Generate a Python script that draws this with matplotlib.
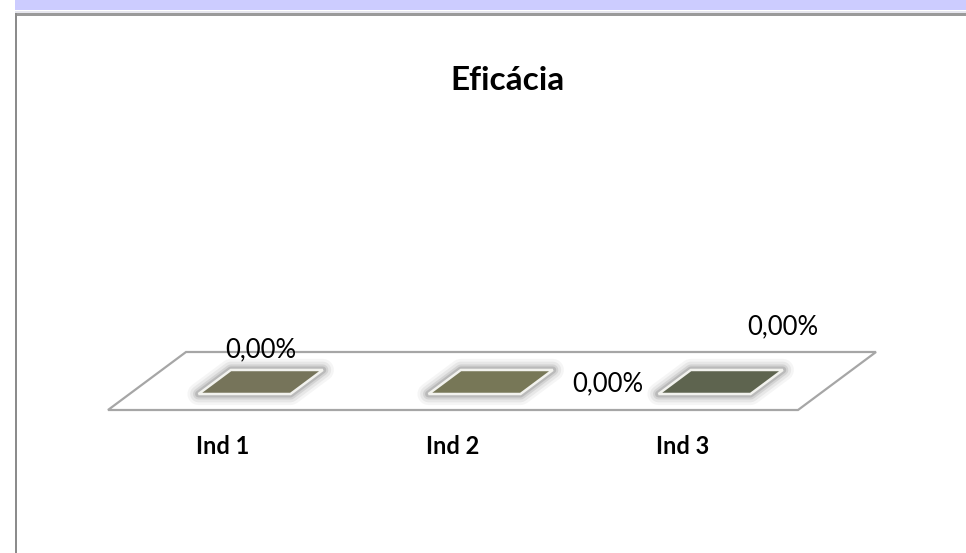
import matplotlib
matplotlib.use("Agg")
import matplotlib.pyplot as plt
from matplotlib.patches import Polygon, Rectangle

plt.rcParams['font.family'] = ['Lato', 'DejaVu Sans']

# ---- data ----
title = "Eficácia"
categories = ["Ind 1", "Ind 2", "Ind 3"]
values = [0.0, 0.0, 0.0]           # fractions (0.00%)
value_labels = ["0,00%", "0,00%", "0,00%"]
bar_colors = ["#76745A", "#777757", "#5E644F"]

# ---- layout (pixel-based figure) ----
W, H = 966, 553
fig = plt.figure(figsize=(W / 100, H / 100), dpi=100)
fig.patch.set_facecolor("white")

# decorative frame
fig.patches.append(Rectangle((15 / W, 1 - 10 / H), 1, 10 / H, transform=fig.transFigure,
                             facecolor="#CCCCFF", edgecolor="none", zorder=0))
fig.patches.append(Rectangle((15 / W, 1 - 12.5 / H), 1, 1.2 / H, transform=fig.transFigure,
                             facecolor="#E6E6EE", edgecolor="none", zorder=0))
fig.patches.append(Rectangle((15 / W, 1 - 15.5 / H), 1, 2.6 / H, transform=fig.transFigure,
                             facecolor="#9A9A9A", edgecolor="none", zorder=0))
fig.patches.append(Rectangle((15 / W, 0), 2.2 / W, 1 - 13 / H, transform=fig.transFigure,
                             facecolor="#8C8C8C", edgecolor="none", zorder=0))

# axes in category units: x -> slot index, y -> depth units (1 unit = 58 px)
ax = fig.add_axes([0, 0, 1, 1])
x0_px, slot_px, front_px, unit_px, shear_px = 108, 230, 410, 58, 78
ax.set_xlim(-x0_px / slot_px, (W - x0_px) / slot_px)
ax.set_ylim(-(H - front_px) / unit_px, front_px / unit_px)
ax.axis("off")

shear = shear_px / slot_px   # x shift per depth unit


def proj(x, d, h=0.0):
    return (x + shear * d, d + h)


n = len(categories)
# floor
floor = [proj(0, 0), proj(n, 0), proj(n, 1), proj(0, 1)]
ax.add_patch(Polygon(floor, closed=True, facecolor="white", edgecolor="#A6A6A6",
                     linewidth=1.6, zorder=1))

bar_w = 0.40
d0, d1 = 0.276, 0.69
value_scale = 4.0  # depth units per 100%

for i, (v, c) in enumerate(zip(values, bar_colors)):
    xc = i + 0.5
    xl, xr = xc - bar_w / 2, xc + bar_w / 2
    h = v * value_scale
    top = [proj(xl, d0, h), proj(xr, d0, h), proj(xr, d1, h), proj(xl, d1, h)]
    # soft glow
    for lw, a in [(16, 0.05), (12, 0.08), (8, 0.12), (5, 0.18)]:
        ax.add_patch(Polygon(top, closed=True, facecolor="none", edgecolor="#4A4A4A",
                             linewidth=lw, alpha=a, joinstyle="round", zorder=2))
    ax.add_patch(Polygon(top, closed=True, facecolor=c, edgecolor="#F2F2EE",
                         linewidth=1.8, zorder=3))

# value labels (placement offsets follow the reference)
label_offsets = [(0.0, 0.55), (0.51, -0.03), (0.27, 0.95)]
for i, (lab, (dx, dy)) in enumerate(zip(value_labels, label_offsets)):
    cx, cy = proj(i + 0.5, (d0 + d1) / 2, values[i] * value_scale)
    ax.text(cx + dx, cy + dy, lab, ha="center", va="center", fontsize=18.5,
            color="black", zorder=5)

# category labels
for i, cat in enumerate(categories):
    ax.text(i + 0.5, -36 / unit_px, cat, ha="center", va="center", fontsize=17,
            fontweight="bold", color="black", zorder=5)

fig.text(507 / W, 1 - 80 / H, title, ha="center", va="center", fontsize=24,
         fontweight="bold", color="black")

fig.savefig("out.png", dpi=100, facecolor="white")
